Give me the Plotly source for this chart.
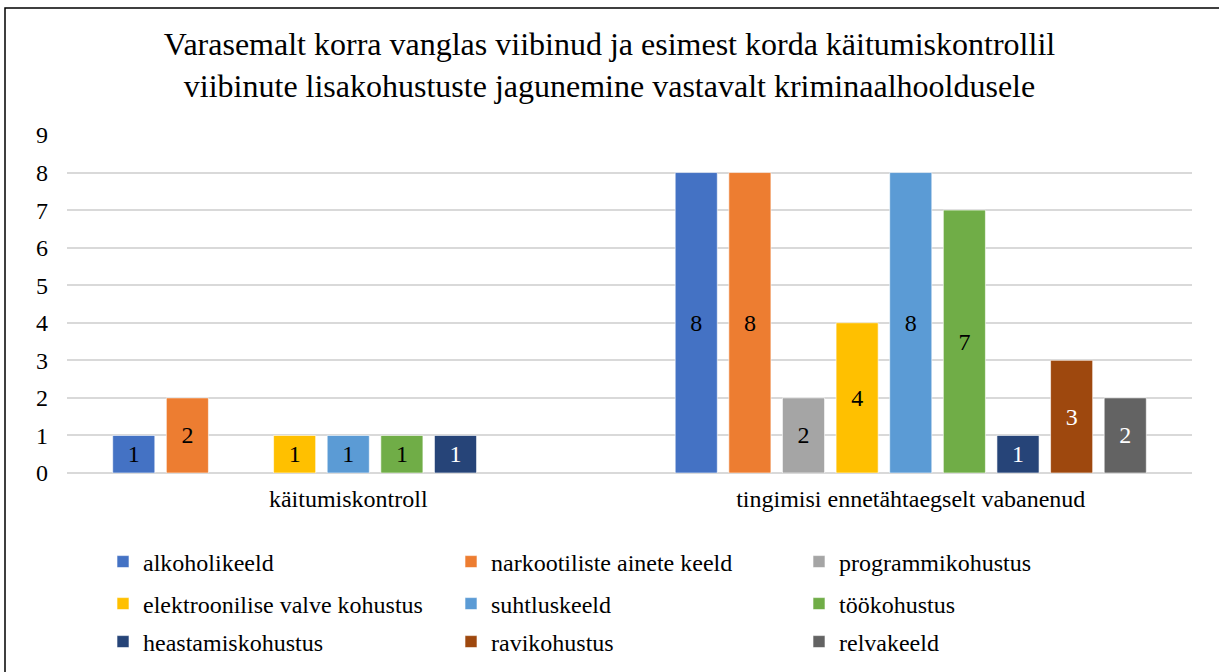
import plotly.graph_objects as go

KATEGOORIAD = ["käitumiskontroll", "tingimisi ennetähtaegselt vabanenud"]

SEERIAD = [
    "alkoholikeeld",
    "narkootiliste ainete keeld",
    "programmikohustus",
    "elektroonilise valve kohustus",
    "suhtluskeeld",
    "töökohustus",
    "heastamiskohustus",
    "ravikohustus",
    "relvakeeld",
]

alkoholikeeld = [1, 8]
narkootiliste_ainete_keeld = [2, 8]
programmikohustus = [None, 2]
elektroonilise_valve_kohustus = [1, 4]
suhtluskeeld = [1, 8]
tookohustus = [1, 7]
heastamiskohustus = [1, 1]
ravikohustus = [None, 3]
relvakeeld = [None, 2]

VAARTUSED = [
    alkoholikeeld, narkootiliste_ainete_keeld, programmikohustus,
    elektroonilise_valve_kohustus, suhtluskeeld, tookohustus,
    heastamiskohustus, ravikohustus, relvakeeld,
]

VARVID = ["#4472C4", "#ED7D31", "#A5A5A5", "#FFC000", "#5B9BD5",
          "#70AD47", "#264478", "#9E480E", "#636363"]
TEKSTI_VARVID = ["black", "black", "black", "black", "black",
                 "black", "white", "white", "white"]
LEGENDID = ["legend", "legend", "legend", "legend2", "legend2",
            "legend2", "legend3", "legend3", "legend3"]

FONT = "Liberation Serif, Times New Roman, serif"

fig = go.Figure()
for nimi, y, varv, tv, lg in zip(SEERIAD, VAARTUSED, VARVID, TEKSTI_VARVID, LEGENDID):
    fig.add_trace(go.Bar(
        name=nimi,
        x=KATEGOORIAD,
        y=y,
        marker=dict(color=varv, line=dict(color="rgba(255,255,255,0.6)", width=1)),
        text=[str(v) if v is not None else "" for v in y],
        textposition="inside",
        insidetextanchor="middle",
        textangle=0,
        textfont=dict(color=tv, size=24, family=FONT),
        legend=lg,
    ))

W, H = 1219, 672
L, R, T, B = 67, 27, 135, 199
pw, ph = W - L - R, H - T - B


def px_x(p):
    return (p - L) / pw


def px_y(p):
    return (H - B - p) / ph


leg_common = dict(
    orientation="h",
    xref="container", yref="container",
    x=103 / W, xanchor="left", yanchor="middle",
    entrywidthmode="pixels", entrywidth=303,
    font=dict(family=FONT, size=24, color="black"),
    bgcolor="rgba(0,0,0,0)",
    traceorder="normal",
)

fig.update_layout(
    width=W, height=H,
    margin=dict(l=L, r=R, t=T, b=B),
    paper_bgcolor="white",
    plot_bgcolor="white",
    font=dict(family=FONT, size=24, color="black"),
    title=dict(
        text="Varasemalt korra vanglas viibinud ja esimest korda käitumiskontrollil<br>"
             "viibinute lisakohustuste jagunemine vastavalt kriminaalhooldusele",
        x=0.5, xanchor="center", xref="container",
        y=1 - 55 / H, yanchor="middle", yref="container",
        font=dict(family=FONT, size=32, color="black"),
    ),
    barmode="group",
    bargap=0.142,
    bargroupgap=0.215,
    xaxis=dict(showgrid=False, ticks="", showline=False, ticklabelstandoff=9,
               tickfont=dict(family=FONT, size=24, color="black")),
    yaxis=dict(range=[0, 9], dtick=1, showgrid=True, gridcolor="#d9d9d9",
               gridwidth=1.5, zeroline=True, zerolinecolor="#d9d9d9",
               zerolinewidth=1.5, ticks="", ticklabelstandoff=18,
               tickfont=dict(family=FONT, size=24, color="black")),
    legend=dict(leg_common, y=1 - 562 / H),
    legend2=dict(leg_common, y=1 - 604 / H),
    legend3=dict(leg_common, y=1 - 642 / H),
    shapes=[dict(type="rect", xref="paper", yref="paper",
                 x0=px_x(5), x1=px_x(1240), y0=px_y(700), y1=px_y(8),
                 line=dict(color="black", width=1.5), fillcolor="rgba(0,0,0,0)",
                 layer="above")],
    showlegend=True,
)

# der Browser gibt dem body standardmäßig 8px Rand
fig.write_html("out.html", config={"displayModeBar": False},
               post_script="document.body.style.margin='0';")
